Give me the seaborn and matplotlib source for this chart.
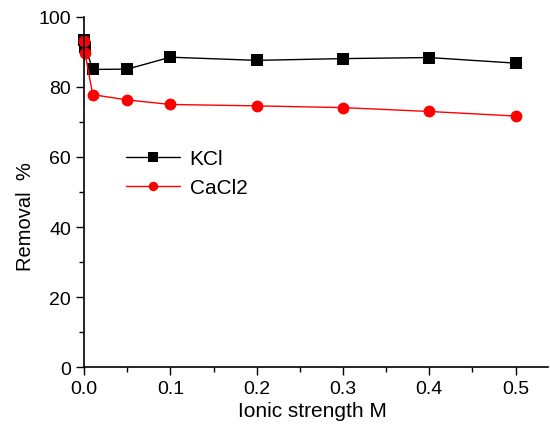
import matplotlib
matplotlib.use("Agg")
import matplotlib.pyplot as plt
import seaborn as sns
import pandas as pd
from matplotlib.ticker import MultipleLocator

ionic = [0.0, 0.001, 0.01, 0.05, 0.1, 0.2, 0.3, 0.4, 0.5]
kcl = [93.3, 91.5, 85.0, 85.1, 88.5, 87.6, 88.1, 88.4, 86.8]
cacl2 = [93.0, 89.6, 77.8, 76.3, 75.0, 74.6, 74.1, 73.0, 71.7]
series_names = ["KCl", "CaCl2"]

df = pd.DataFrame({
    "x": ionic * 2,
    "y": kcl + cacl2,
    "series": [series_names[0]] * len(ionic) + [series_names[1]] * len(ionic),
})

sns.set_style("ticks")
plt.rcParams["font.family"] = ["Liberation Sans", "DejaVu Sans"]
plt.rcParams["text.color"] = "black"
plt.rcParams["axes.labelcolor"] = "black"
plt.rcParams["xtick.color"] = "black"
plt.rcParams["ytick.color"] = "black"

fig = plt.figure(figsize=(5.5, 4.27), dpi=100)
ax = fig.add_axes([0.153, 0.138, 0.844, 0.82])

sns.lineplot(data=df, x="x", y="y", hue="series", style="series",
             palette={"KCl": "black", "CaCl2": "#ff0000"},
             markers={"KCl": "s", "CaCl2": "o"}, dashes=False,
             markersize=8.5, markeredgewidth=0, linewidth=1.0,
             ax=ax, legend=True)
for ln in ax.lines:
    ln.set_clip_on(False)

ax.set_xlim(0, 0.538)
ax.set_ylim(0, 100)
ax.xaxis.set_major_locator(MultipleLocator(0.1))
ax.xaxis.set_minor_locator(MultipleLocator(0.05))
ax.yaxis.set_major_locator(MultipleLocator(20))
ax.yaxis.set_minor_locator(MultipleLocator(10))
ax.set_xticks([0, 0.1, 0.2, 0.3, 0.4, 0.5])
ax.set_xticklabels(["0.0", "0.1", "0.2", "0.3", "0.4", "0.5"])
ax.tick_params(axis="both", which="major", direction="out", length=6, width=1, labelsize=14, color="black", labelcolor="black")
ax.tick_params(axis="both", which="minor", direction="out", length=3.5, width=1, color="black")
for s in ["top", "right"]:
    ax.spines[s].set_visible(False)
for s in ["left", "bottom"]:
    ax.spines[s].set_linewidth(1.2)
    ax.spines[s].set_color("black")

ax.set_xlabel("Ionic strength M", fontsize=15, color="black")
ax.set_ylabel("Removal  %", fontsize=14.5, color="black")
ax.xaxis.set_label_coords(0.491, -0.098)
ax.yaxis.set_label_coords(-0.106, 0.434)

handles, labels = ax.get_legend_handles_labels()
leg = ax.legend(handles, labels, loc="upper left", bbox_to_anchor=(0.05, 0.675),
                frameon=False, fontsize=15, handlelength=2.6, handletextpad=0.45,
                labelspacing=0.45, markerscale=0.8)
for t in leg.get_texts():
    t.set_color("black")

fig.savefig("out.png", dpi=100)
